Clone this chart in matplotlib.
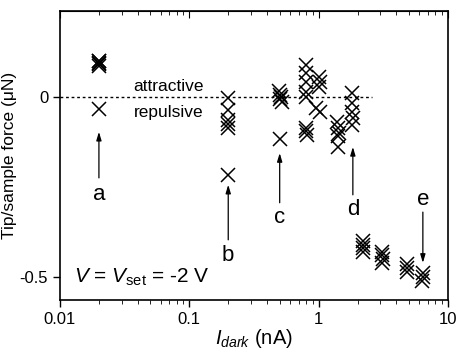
import numpy as np
import matplotlib
matplotlib.use('Agg')
import matplotlib.pyplot as plt

plt.rcParams['font.family'] = ['Liberation Sans', 'DejaVu Sans']
plt.rcParams['mathtext.fontset'] = 'custom'
plt.rcParams['mathtext.rm'] = 'Liberation Sans'
plt.rcParams['mathtext.it'] = 'Liberation Sans:italic'

# dati (I_dark in nA, forza in uN)
i_dark = [0.02, 0.02, 0.02, 0.02, 0.02, 0.02,
          0.2, 0.2, 0.2, 0.2, 0.2, 0.2,
          0.49, 0.5, 0.51, 0.5, 0.52, 0.5,
          0.8, 0.8, 0.8, 0.8, 0.8, 0.8, 0.8, 0.82,
          1.0, 1.02, 1.0, 0.95, 1.02,
          1.38, 1.41, 1.44, 1.41, 1.4,
          1.82, 1.82, 1.8, 1.84, 1.82,
          2.2, 2.2, 2.22, 2.2,
          3.1, 3.1, 3.12, 3.1,
          4.8, 4.8, 4.85,
          6.4, 6.4, 6.35]
forza = [0.085, 0.09, 0.095, 0.10, 0.10, -0.035,
         -0.003, -0.036, -0.064, -0.076, -0.086, -0.217,
         0.015, 0.005, 0.0, -0.005, -0.015, -0.118,
         0.089, 0.066, 0.042, 0.014, 0.0, -0.086, -0.095, -0.105,
         0.056, 0.042, 0.028, -0.03, -0.042,
         -0.069, -0.086, -0.1, -0.11, -0.139,
         0.011, -0.017, -0.042, -0.058, -0.078,
         -0.40, -0.41, -0.42, -0.43,
         -0.43, -0.44, -0.45, -0.46,
         -0.465, -0.475, -0.485,
         -0.49, -0.50, -0.51]

# frecce: posizione x, punta, coda, etichetta
freccia_x = [0.02, 0.2, 0.5, 1.84, 6.4]
freccia_punta = [-0.097, -0.244, -0.156, -0.139, -0.461]
freccia_coda = [-0.225, -0.397, -0.294, -0.272, -0.32]
freccia_testo = ['a', 'b', 'c', 'd', 'e']
testo_y = [-0.27, -0.44, -0.336, -0.314, -0.286]

fig = plt.figure(figsize=(4.58, 3.5), dpi=100)
ax = fig.add_axes([0.131, 0.143, 0.847, 0.826])

ax.plot(i_dark, forza, linestyle='none', marker='x', color='black',
        markersize=10, markeredgewidth=1.1)

ax.plot([0.01, 2.6], [0, 0], color='black', linestyle=(0, (2, 2)), lw=1)
ax.text(0.037, 0.028, 'attractive', fontsize=12.5, va='center', ha='left')
ax.text(0.037, -0.042, 'repulsive', fontsize=12.5, va='center', ha='left')

for x, p, c, t, ty in zip(freccia_x, freccia_punta, freccia_coda, freccia_testo, testo_y):
    ax.annotate('', xy=(x, p), xytext=(x, c),
                arrowprops=dict(arrowstyle='-|>,head_length=0.5,head_width=0.15',
                                color='black', lw=0.9, shrinkA=0, shrinkB=0))
    ax.text(x, ty, t, fontsize=16, ha='center', va='center')

ax.text(0.0128, -0.5, r'$V$ = $V_{\rm set}$ = -2 V', fontsize=15, va='center', ha='left')

ax.set_xscale('log')
ax.set_xlim(0.01, 10)
ax.set_ylim(-0.564, 0.239)
ax.set_xticks([0.01, 0.1, 1, 10])
ax.set_xticklabels(['0.01', '0.1', '1', '10'])
ax.set_yticks([0, -0.5])
ax.set_yticklabels(['0', '-0.5'])
ax.tick_params(axis='both', labelsize=12, width=1, color='black')
ax.tick_params(axis='x', which='major', direction='out', length=5)
ax.tick_params(axis='x', which='minor', direction='out', length=3)
ax.tick_params(axis='y', direction='out', length=5)

top = ax.secondary_xaxis('top')
top.tick_params(which='major', direction='in', length=5, labeltop=False)
top.tick_params(which='minor', direction='in', length=3)

for s in ax.spines.values():
    s.set_linewidth(1.2)

ax.set_xlabel(r'$I_{dark}$ (nA)', fontsize=14.5, labelpad=0)
ax.set_ylabel('Tip/sample force (μN)', fontsize=12.5, labelpad=2)

fig.savefig('out.png', dpi=100)
